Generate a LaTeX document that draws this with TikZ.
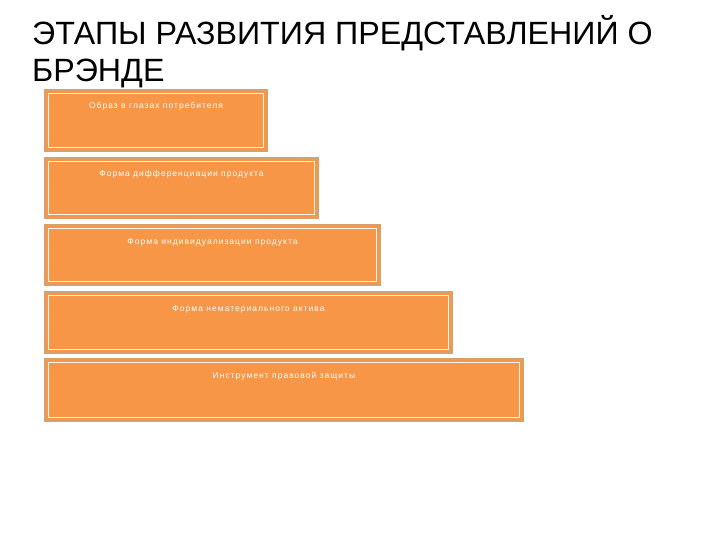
\documentclass[tikz,border=0pt]{standalone}
\usepackage{fontspec}
\setmainfont{Liberation Sans}
\definecolor{boxfill}{HTML}{F79646}
\definecolor{boxedge}{HTML}{D9A06A}
\tikzset{
  stage/.style={draw=boxedge, line width=1.6pt, fill=boxfill},
  innerline/.style={draw=white!90!boxfill, line width=0.6pt},
  stagetext/.style={text=white, font=\fontsize{8.5}{10}\selectfont\addfontfeature{LetterSpace=12}, anchor=base, inner sep=0pt},
  titletext/.style={font=\fontsize{32.2}{38}\selectfont, anchor=base west, inner sep=0pt, align=left}
}
\begin{document}
\begin{tikzpicture}[x=1pt,y=-1pt]
\useasboundingbox (0,0) rectangle (720,540);
\node[titletext] (title) at (32,45) {ЭТАПЫ РАЗВИТИЯ ПРЕДСТАВЛЕНИЙ О};
\node[titletext] (title2) at (32,82) {БРЭНДЕ};
\foreach \n/\r/\t/\b/\txt in {
  a/267/90/151/{Образ в глазах потребителя},
  b/318/158/218/{Форма дифференциации продукта},
  c/380/225/285/{Форма индивидуализации продукта},
  d/452/292/353/{Форма нематериального актива},
  e/523/359/421/{Инструмент правовой защиты}}{
  \draw[stage] (45,\t) rectangle (\r,\b);
  \draw[innerline] (48.5,\t+3.5) rectangle (\r-3.5,\b-3.5);
  \node[stagetext] (\n) at ({(45+\r)/2},\t+19) {\txt};
}
\end{tikzpicture}
\end{document}
